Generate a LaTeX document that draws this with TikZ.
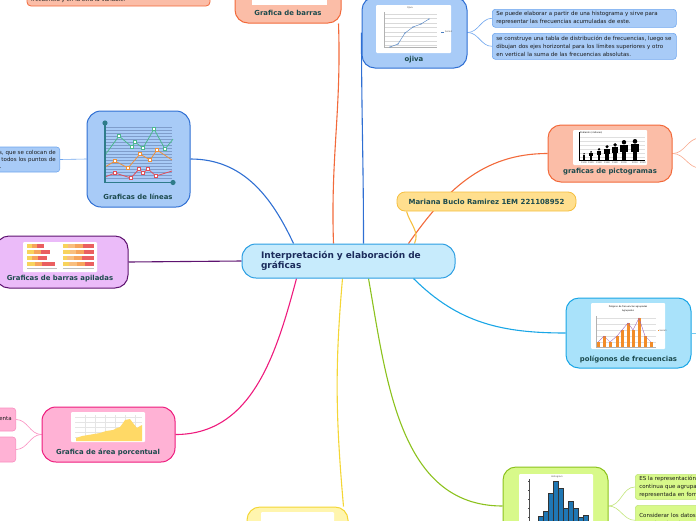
\documentclass[tikz,border=0pt]{standalone}
\usepackage{fontspec}
\setmainfont{DejaVu Sans}
\usepackage{tikz}
\usetikzlibrary{backgrounds,calc}
\definecolor{salf}{HTML}{FBBDA7}
\definecolor{sald}{HTML}{F26A3B}
\definecolor{salt}{HTML}{F8A88C}
\definecolor{bluef}{HTML}{A8CBF7}
\definecolor{blued}{HTML}{2F6FD3}
\definecolor{bluet}{HTML}{6FA6EE}
\definecolor{purf}{HTML}{EBBBF9}
\definecolor{purd}{HTML}{5E1370}
\definecolor{cyanf}{HTML}{A9E2FA}
\definecolor{cyand}{HTML}{1AA6E6}
\definecolor{pinkf}{HTML}{FFB2D5}
\definecolor{pinkd}{HTML}{EE1B7D}
\definecolor{pinkt}{HTML}{FA8EC0}
\definecolor{grnf}{HTML}{D8F98A}
\definecolor{grnd}{HTML}{8CC21E}
\definecolor{grnt}{HTML}{C2E57A}
\definecolor{yelf}{HTML}{FFF5AE}
\definecolor{yeld}{HTML}{F4D636}
\definecolor{namf}{HTML}{FFDF8E}
\definecolor{namd}{HTML}{F5BF3F}
\definecolor{cenf}{HTML}{C7EBFC}
\definecolor{cend}{HTML}{2B9EE2}
\definecolor{labc}{HTML}{1C4A4D}
\definecolor{cenc}{HTML}{1C2C5C}
\definecolor{txtc}{HTML}{1A1A1A}
\definecolor{axc}{HTML}{2F7C8A}
\definecolor{gridl}{HTML}{7F9DCB}
\definecolor{lgrn}{HTML}{4DB88E}
\definecolor{lorg}{HTML}{F0913A}
\definecolor{lred}{HTML}{E0505A}
\definecolor{barY}{HTML}{F8D35C}
\definecolor{barO}{HTML}{F6A45C}
\definecolor{barL}{HTML}{F9BE7E}
\definecolor{barR}{HTML}{EA5F60}
\definecolor{polO}{HTML}{F28C28}
\definecolor{polP}{HTML}{9B5BB5}
\definecolor{areY}{HTML}{FFD966}
\definecolor{hisB}{HTML}{1F77B4}
\definecolor{ojl}{HTML}{4A7EC0}

\begin{document}
\begin{tikzpicture}[x=1pt,y=-1pt,
  mbox/.style={draw,line width=1pt,rounded corners=13pt,inner sep=0pt},
  tbox/.style={draw,line width=0.6pt,rounded corners=3pt,inner xsep=4pt,inner ysep=2pt,
               align=left,font=\fontsize{5.5}{7.9}\selectfont,text=txtc},
  lab/.style={font=\bfseries\fontsize{6.9}{8}\selectfont,text=labc},
  img/.style={fill=white,rounded corners=1pt},
  conn/.style={line width=1.1pt},
  twig/.style={line width=0.6pt},
  tinyt/.style={font=\fontsize{2.2}{2.6}\selectfont,inner sep=0pt,text=black!70},
]
\useasboundingbox (0,0) rectangle (696,520);

% main nodes
\node[draw=sald,fill=salf,line width=0.8pt,rounded corners=4pt,
      minimum width=183pt,minimum height=26pt] (notaA) at (118.5,-7) {};
\node[mbox,fill=salf,draw=sald,minimum width=106pt,minimum height=63pt] (barras) at (288,-8.5) {};
\node[mbox,fill=bluef,draw=blued,minimum width=105pt,minimum height=71pt] (ojiva) at (414.5,32.5) {};
\node[mbox,fill=salf,draw=sald,minimum width=124pt,minimum height=57pt] (picto) at (610,153.5) {};
\node[draw=namd,fill=namf,line width=0.8pt,rounded corners=8pt,minimum width=179pt,minimum height=19pt,
      font=\bfseries\fontsize{7}{8}\selectfont,text=labc] (autor) at (486.5,201.5)
  {Mariana Buclo Ramirez 1EM 221108952};
\node[mbox,fill=cenf,draw=cend,rounded corners=14pt,minimum width=213pt,minimum height=34pt,
      text width=175pt,inner xsep=19pt,align=left,
      font=\bfseries\fontsize{9}{10.5}\selectfont,text=cenc] (centro) at (348.5,261)
  {Interpretación y elaboración de\\gráficas};
\node[mbox,fill=bluef,draw=blued,rounded corners=14pt,minimum width=103pt,minimum height=96pt] (lineas) at (138.5,159) {};
\node[mbox,fill=purf,draw=purd,minimum width=132pt,minimum height=52pt] (apiladas) at (62,262) {};
\node[mbox,fill=cyanf,draw=cyand,minimum width=125pt,minimum height=70pt] (poligono) at (628.5,333) {};
\node[mbox,fill=pinkf,draw=pinkd,rounded corners=14pt,minimum width=133pt,minimum height=55pt] (area) at (108.5,434.5) {};
\node[mbox,fill=grnf,draw=grnd,minimum width=105pt,minimum height=78pt] (histo) at (555.5,506) {};
\node[mbox,fill=yelf,draw=yeld,minimum width=101pt,minimum height=63pt] (pastel) at (297.5,538.5) {};

% text boxes
\node[font=\fontsize{5.5}{7.5}\selectfont,text=txtc,anchor=base west,inner sep=0pt] at (31,1.3)
  {frecuencia y en la otra la variable.};
\node[tbox,fill=bluef,draw=bluet,anchor=north west,text width=176pt,minimum height=18pt] (ojtxtA) at (492,9)
  {Se puede elaborar a partir de una histograma y sirve para\\representar las frecuencias acumuladas de este.};
\node[tbox,fill=bluef,draw=bluet,anchor=north west,text width=176pt,minimum height=26pt] (ojtxtB) at (492,33)
  {se construye una tabla de distribución de frecuencias, luego se\\dibujan dos ejes horizontal para los límites superiores y otro\\en vertical la suma de las frecuencias absolutas.};
\node[tbox,fill=bluef,draw=bluet,anchor=east,text width=130pt,align=right,minimum height=25pt,
      font=\fontsize{5.5}{7}\selectfont] (lintxt) at (60,159.5)
  {de datos, que se colocan de\\un plano y se unen todos los puntos de\\la serie.\hspace*{54pt}};
\node[tbox,fill=pinkf,draw=pinkt,anchor=east,align=right,minimum height=23pt] (areaA) at (16,419.5) {representa};
\node[tbox,fill=pinkf,draw=pinkt,anchor=east,minimum width=40pt,minimum height=25pt] (areaB) at (16,449.5) {};
\node[tbox,fill=grnf,draw=grnt,anchor=north west,text width=120pt,minimum height=25pt] (histA) at (635,474)
  {ES la representación\\continua que agrupa\\representada en forma};
\node[tbox,fill=grnf,draw=grnt,anchor=north west,text width=120pt,minimum height=30pt] (histB) at (635,505)
  {Considerar los datos\\organizar los datos,};

% labels
\node[lab] at (288,13) {Grafica de barras};
\node[lab] at (414,60) {ojiva};
\node[lab] at (610,172) {graficas de pictogramas};
\node[lab] at (138,197) {Graficas de líneas};
\node[lab] at (60,279) {Graficas de barras apiladas};
\node[lab] at (628.5,359) {polígonos de frecuencias};
\node[lab] at (108,452) {Grafica de área porcentual};

% pictures inside the nodes
\fill[white] (252,-30) rectangle (327,5);
% ojiva
\draw[img,draw=none] (376,5) rectangle (451,53);
\foreach \yy in {14,18.5,...,46} \draw[gray!30,line width=0.2pt] (384,\yy) -- (437,\yy);
\draw[gray!60,line width=0.3pt] (384,12) -- (384,47) -- (437,47);
\draw[ojl,line width=0.4pt] (390,47) -- (398,44) -- (405,33) -- (413,27) -- (421,24) -- (429,19);
\foreach \px/\py in {390/47,398/44,405/33,413/27,421/24,429/19} \fill[ojl] (\px,\py) circle (0.6pt);
\node[tinyt] at (410,8) {Ojiva};
\draw[ojl,line width=0.5pt] (441,32) -- (444,32);
\node[tinyt,anchor=west] at (445,32) {Serie1};
% pictogramas
\draw[img,draw=none] (573,130) rectangle (647,165);
\node[tinyt,anchor=west,text=black] at (580,133) {Población (millones)};
\foreach \yy in {137,141,...,157} \draw[gray!25,line width=0.2pt] (579,\yy) -- (645,\yy);
\draw[black,line width=0.3pt] (579,132) -- (579,160) -- (645,160);
\foreach \xx/\tp in {584/153,591/151,599/148,607/145,615/143,624/140,635/139}{
  \pgfmathsetmacro{\rr}{0.11*(160-\tp)}
  \fill[black] (\xx,\tp+\rr) circle (\rr pt);
  \fill[black] (\xx-1.7*\rr,\tp+2.3*\rr) rectangle (\xx+1.7*\rr,\tp+5.5*\rr);
  \fill[black] (\xx-1.0*\rr,\tp+2.3*\rr) rectangle (\xx+1.0*\rr,160);
}
\foreach \xx/\yr in {584/1900,591/1920,599/1940,607/1960,615/1980,624/2000,635/2010,643/2020}
  \node[tinyt] at (\xx,162.5) {\yr};
% lineas
\foreach \yy in {127,130,...,180} \draw[gridl,line width=0.35pt] (106,\yy) -- (172,\yy);
\draw[lgrn,line width=0.8pt] (105,155) -- (119,136) -- (132,147) -- (135,142) -- (143,148) -- (154,129) -- (165,149) -- (170,143) -- (173,139);
\draw[lorg,line width=0.8pt] (105,167) -- (115,161) -- (128,168) -- (140,154) -- (150,160) -- (157,150) -- (172,160);
\draw[lred,line width=0.8pt] (105,177) -- (115,173) -- (131,178) -- (139,169) -- (143,173) -- (148,169) -- (156,176) -- (172,171);
\foreach \px/\py in {119/136,132/147,135/142,143/148,154/129,165/149}
  \draw[lgrn,fill=white,line width=0.5pt] (\px-1.5,\py-1.5) rectangle (\px+1.5,\py+1.5);
\foreach \px/\py in {115/161,128/168,140/154,150/160,157/150}
  \draw[lorg,fill=white,line width=0.5pt] (\px-1.5,\py-1.5) rectangle (\px+1.5,\py+1.5);
\foreach \px/\py in {115/173,131/178,139/169,143/173,148/169,156/176}
  \draw[lred,fill=white,line width=0.5pt] (\px-1.5,\py-1.5) rectangle (\px+1.5,\py+1.5);
\draw[axc,line width=1.6pt] (105,123) -- (105,182.5) -- (173,182.5);
\fill[axc] (105,123) circle (2.6pt) (173,182.5) circle (2.6pt);
% barras apiladas
\draw[img,draw=none] (23,242) rectangle (97,272);
\foreach \yy/\a/\b/\c in {246/32/37/44,252/34/41/50,258/32/38/47,264/35/42/55}{
  \fill[barY] (27,\yy-1.8) rectangle (\a,\yy+1.8);
  \fill[barO] (\a,\yy-1.8) rectangle (\b,\yy+1.8);
  \fill[barR] (\b,\yy-1.8) rectangle (\c,\yy+1.8);
}
\foreach \yy/\a/\b/\c in {246/68/75/83,252/70/76/84,258/67/74/82,264/69/77/85}{
  \fill[barY] (63,\yy-1.8) rectangle (\a,\yy+1.8);
  \fill[barL] (\a,\yy-1.8) rectangle (\b,\yy+1.8);
  \fill[barO] (\b,\yy-1.8) rectangle (\c,\yy+1.8);
  \fill[barR] (\c,\yy-1.8) rectangle (94,\yy+1.8);
}
\draw[gray!50,line width=0.2pt] (27,268.5) -- (57,268.5) (63,268.5) -- (94,268.5);
% poligonos
\draw[img,draw=none] (591,303) rectangle (665,349);
\node[tinyt,text=black] at (628,307) {Polígono de frecuencias agrupadas};
\node[tinyt,text=black] at (628,310.5) {Agrupados};
\foreach \yy in {318,324,...,342} \draw[gray!25,line width=0.2pt] (596,\yy) -- (656,\yy);
\draw[gray!60,line width=0.3pt] (596,316) -- (596,347) -- (656,347);
\foreach \xx/\tp in {598/342,604/336,610/342,617/336,622/330,628/323,633/330,639/318,645/336,651/342}
  \fill[polO] (\xx-1.5,\tp) rectangle (\xx+1.5,347);
\draw[polP,line width=0.35pt] (598,342) -- (604,336) -- (610,342) -- (617,336) -- (622,330) -- (628,323) -- (633,330) -- (639,318) -- (645,336) -- (651,342);
\fill[polO] (657.5,329.5) rectangle (659,331);
\node[tinyt,anchor=west] at (659.5,330.3) {Serie1};
% area porcentual
\draw[img,draw=none] (71,412) rectangle (145,442);
\foreach \yy in {417,422,...,437} \draw[gray!20,line width=0.2pt] (75,\yy) -- (142,\yy);
\foreach \xx in {85,95,...,135} \draw[gray!20,line width=0.2pt] (\xx,415) -- (\xx,441);
\fill[areY] (76,441) -- (76,438) -- (82,436) -- (88,435) -- (94,434) -- (100,433) -- (106,431) -- (113,430) -- (117,428) -- (120,427)
  -- (123,423) -- (125,420) -- (130,419) -- (133,423) -- (137,428) -- (140,426) -- (142,425) -- (142,441) -- cycle;
% histograma
\draw[img,draw=none] (519,474) rectangle (593,540);
\node[tinyt] at (557,477) {Histogram};
\draw[black!70,line width=0.3pt] (529,479) -- (529,540);
\foreach \yy in {481,490,...,517} \draw[black!70,line width=0.2pt] (528,\yy) -- (529,\yy);
\foreach \xx/\tp in {538/516,543/511,548/493,553/481,558/488,563/508,568/501,573/508,578/517,583/515}
  \draw[fill=hisB,draw=black!80,line width=0.2pt] (\xx,\tp) rectangle (\xx+5,540);
% pastel
\draw[img,draw=none] (261,512) rectangle (334,560);
\fill[orange!90!yellow] (298,531) -- ++(200:17pt) arc[start angle=200,end angle=270,radius=17pt] -- cycle;
\fill[hisB] (298,531) -- ++(270:17pt) arc[start angle=270,end angle=340,radius=17pt] -- cycle;

% connectors
\begin{scope}[on background layer]
\draw[conn,draw=sald] ([xshift=-3pt]barras.south east) to[out=-88,in=92] ([xshift=-15pt]centro.north);
\draw[conn,draw=blued] (ojiva.west) to[out=-90,in=90] ([xshift=15pt]centro.north);
\draw[conn,draw=blued] (lineas.east) to[out=0,in=115] ([xshift=-55pt]centro.north);
\draw[conn,draw=purd] (apiladas.east) -- (centro.west);
\draw[conn,draw=pinkd] (area.east) to[out=0,in=-105] ([xshift=-52pt]centro.south);
\draw[conn,draw=yeld] ([xshift=-6pt]centro.south) to[out=-95,in=95] ([xshift=46pt]pastel.north);
\draw[conn,draw=grnd] ([xshift=20pt]centro.south) to[out=-80,in=180] (histo.west);
\draw[conn,draw=cyand] ([xshift=65pt]centro.south) to[out=-45,in=180] (poligono.west);
\draw[conn,draw=sald] ([xshift=60pt]centro.north) to[out=55,in=180] (picto.west);
\draw[conn,draw=namd] ([xshift=66pt]centro.north) to[out=65,in=-75] ([xshift=10pt]autor.south west);
\coordinate (pictoA) at (700,138);
\coordinate (pictoB) at (700,168);
\coordinate (poligA) at (700,333);
\draw[twig,draw=bluet] (ojiva.east) to[out=0,in=180] (ojtxtA.west);
\draw[twig,draw=bluet] (ojiva.east) to[out=0,in=180] (ojtxtB.west);
\draw[twig,draw=bluet] (lineas.west) -- (lintxt.east);
\draw[twig,draw=salt] (picto.east) to[out=0,in=180] (pictoA);
\draw[twig,draw=salt] (picto.east) to[out=0,in=180] (pictoB);
\draw[twig,draw=cyand!60] (poligono.east) -- (poligA);
\draw[twig,draw=pinkt] (area.west) to[out=180,in=0] (areaA.east);
\draw[twig,draw=pinkt] (area.west) to[out=180,in=0] (areaB.east);
\draw[twig,draw=grnt] (histo.east) to[out=0,in=180] (histA.west);
\draw[twig,draw=grnt] (histo.east) to[out=0,in=180] (histB.west);
\end{scope}
\end{tikzpicture}
\end{document}
